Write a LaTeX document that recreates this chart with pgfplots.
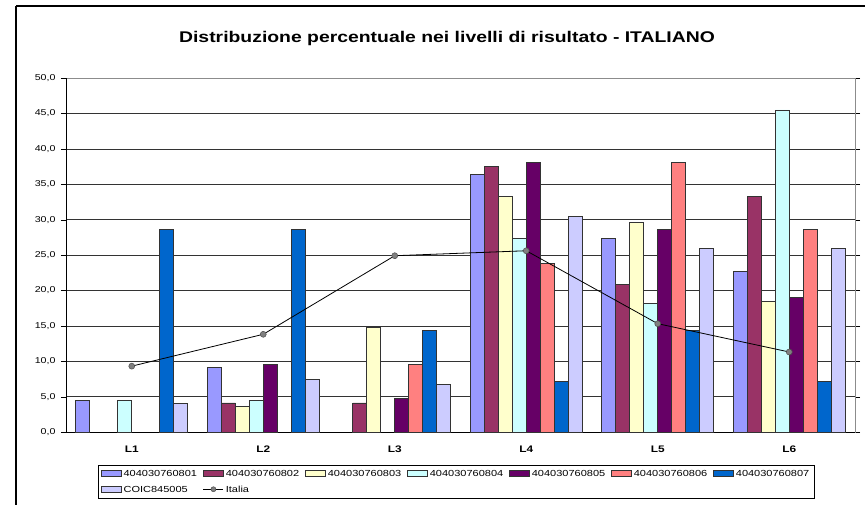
\documentclass[border=0pt]{standalone}
\usepackage{fontspec}
\setmainfont{Liberation Sans}
\usepackage{graphicx}
\usepackage{pgfplots}
\pgfplotsset{compat=1.18}
\definecolor{cA}{HTML}{9999FF}
\definecolor{cB}{HTML}{993366}
\definecolor{cC}{HTML}{FFFFCC}
\definecolor{cD}{HTML}{CCFFFF}
\definecolor{cE}{HTML}{660066}
\definecolor{cF}{HTML}{FF8080}
\definecolor{cG}{HTML}{0066CC}
\definecolor{cH}{HTML}{CCCCFF}
\newcommand{\sx}[1]{\scalebox{1.25}[1]{#1}}
\pgfplotsset{
  barleg/.style={legend image code/.code={\draw[##1] (0pt,-2.5pt) rectangle (20pt,3.5pt);}},
  lineleg/.style={legend image code/.code={\draw[##1] (0pt,0.5pt) -- (20pt,0.5pt); \draw[##1, mark size=2.5pt] plot coordinates {(10pt,0.5pt)};}},
}
\begin{document}
\begin{tikzpicture}[x=1pt,y=1pt]
\useasboundingbox (0,0) rectangle (865,504);
\draw[line width=2pt] (16,498) -- (870,498);
\draw[line width=2pt] (16,498) -- (16,-5);
\node[font=\fontsize{15.5}{17}\selectfont\bfseries] at (447,466) {\sx{Distribuzione percentuale nei livelli di risultato - ITALIANO}};
\begin{axis}[
  at={(66pt,72pt)}, anchor=south west,
  width=789pt, height=354pt, scale only axis,
  xmin=-0.5, xmax=5.5, ymin=0, ymax=50,
  ytick={0,5,...,50},
  xtick={0,...,5},
  xticklabels={\sx{L1},\sx{L2},\sx{L3},\sx{L4},\sx{L5},\sx{L6}},
  minor xtick={-0.5,0.5,...,5.5},
  xtick style={draw=none},
  minor tick style={black},
  tick align=outside,
  major tick length=5pt,
  minor tick length=4pt,
  ytick style={black},
  ymajorgrids,
  major grid style={black!80, line width=0.6pt},
  axis line style={draw=black!45},
  /pgf/number format/assume math mode=true,
  yticklabel={\sx{\pgfmathprintnumber[fixed, fixed zerofill, precision=1, use comma]{\tick}}},
  yticklabel style={font=\fontsize{8.5}{9}\selectfont, xshift=-2pt},
  xticklabel style={font=\fontsize{9.5}{10}\selectfont\bfseries, yshift=-5pt},
  legend columns=7,
  legend style={at={(0.4945,-0.141)}, anchor=center, draw=black, line width=0.6pt,
    font=\fontsize{8.8}{10}\selectfont, inner sep=2.5pt, row sep=4pt,
    /tikz/every even column/.append style={column sep=4pt}},
  legend cell align=left,
  clip=false,
]
\draw[black, line width=0.8pt] (rel axis cs:0,0) -- (rel axis cs:0,1);
\draw[black, line width=0.8pt] (rel axis cs:0,0) -- (rel axis cs:1,0);
\pgfplotsset{every axis plot/.append style={draw=black!80, line width=0.6pt, bar width=14pt}}
\addplot[ybar, fill=cA, bar shift=-49pt, barleg] coordinates {(0,4.5) (1,9.1) (3,36.4) (4,27.3) (5,22.7)};
\addlegendentry{\sx{404030760801}}
\addplot[ybar, fill=cB, bar shift=-35pt, barleg] coordinates {(1,4.1) (2,4.1) (3,37.5) (4,20.8) (5,33.3)};
\addlegendentry{\sx{404030760802}}
\addplot[ybar, fill=cC, bar shift=-21pt, barleg] coordinates {(1,3.6) (2,14.8) (3,33.3) (4,29.6) (5,18.5)};
\addlegendentry{\sx{404030760803}}
\addplot[ybar, fill=cD, bar shift=-7pt, barleg] coordinates {(0,4.5) (1,4.5) (3,27.3) (4,18.2) (5,45.5)};
\addlegendentry{\sx{404030760804}}
\addplot[ybar, fill=cE, bar shift=7pt, barleg] coordinates {(1,9.5) (2,4.8) (3,38.1) (4,28.6) (5,19.0)};
\addlegendentry{\sx{404030760805}}
\addplot[ybar, fill=cF, bar shift=21pt, barleg] coordinates {(2,9.5) (3,23.8) (4,38.1) (5,28.6)};
\addlegendentry{\sx{404030760806}}
\addplot[ybar, fill=cG, bar shift=35pt, barleg] coordinates {(0,28.6) (1,28.6) (2,14.3) (3,7.1) (4,14.3) (5,7.1)};
\addlegendentry{\sx{404030760807}}
\addplot[ybar, fill=cH, bar shift=49pt, barleg] coordinates {(0,4.0) (1,7.4) (2,6.7) (3,30.5) (4,25.9) (5,25.9)};
\addlegendentry{\sx{COIC845005}}
\addplot[black, line width=0.8pt, mark=*, mark size=3pt, mark options={fill=black!50, draw=black!70, line width=0.5pt}, lineleg] coordinates {(0,9.3) (1,13.8) (2,24.9) (3,25.6) (4,15.3) (5,11.3)};
\addlegendentry{\sx{Italia}}
\end{axis}
\end{tikzpicture}
\end{document}
